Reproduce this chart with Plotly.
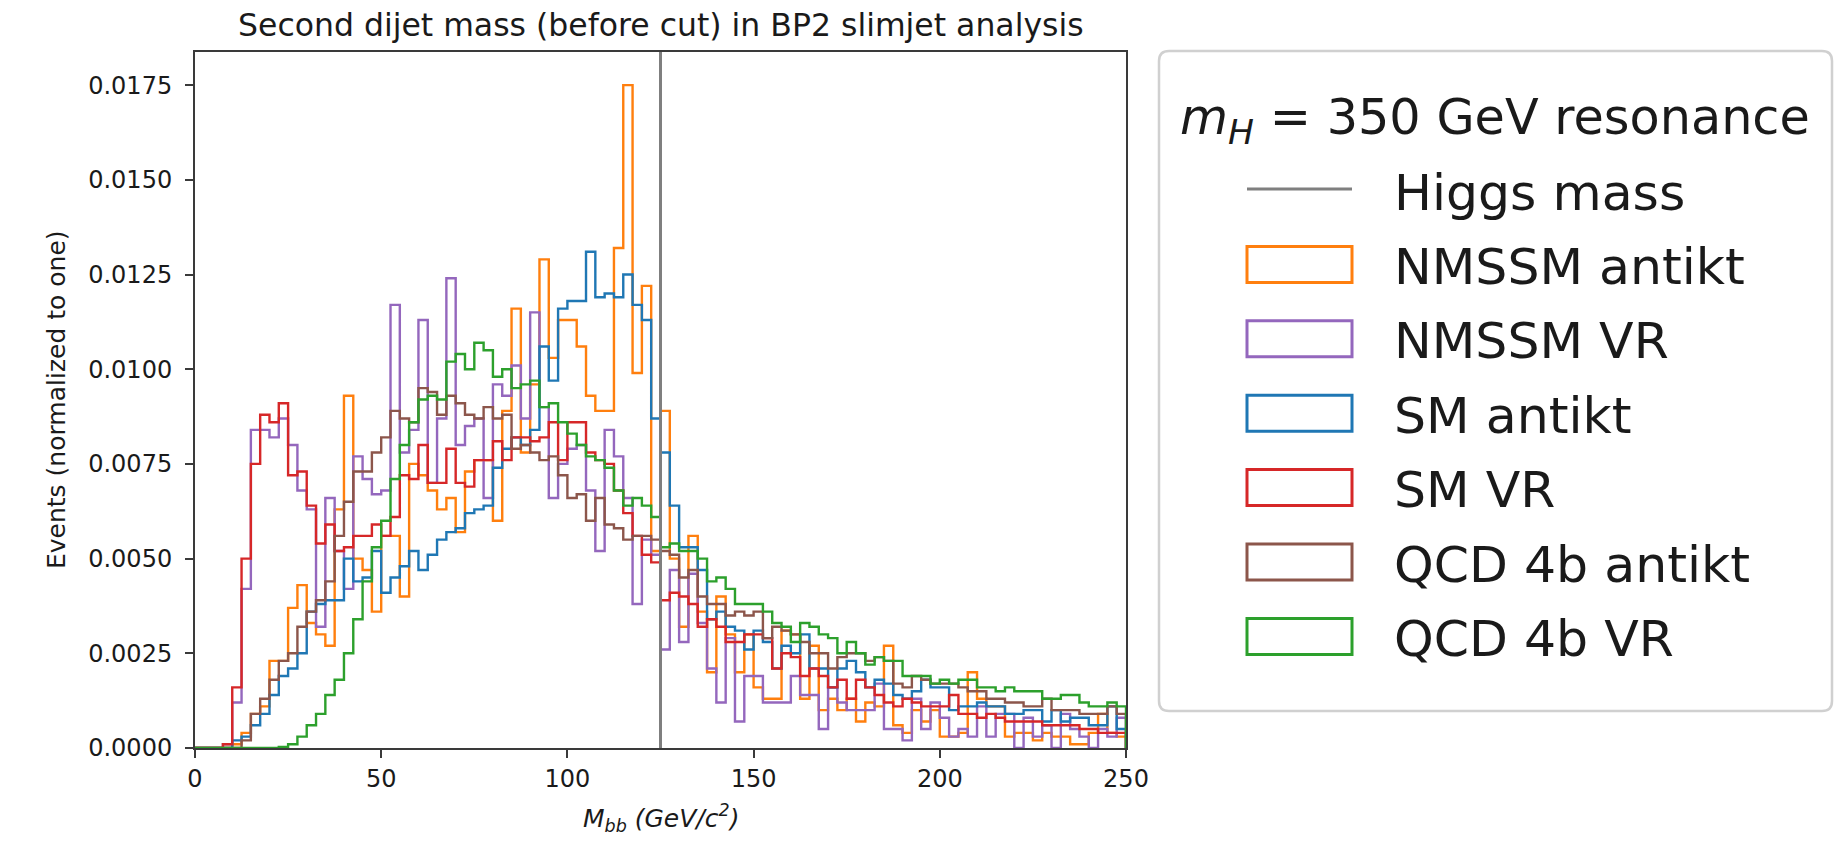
import numpy as np
import plotly.graph_objects as go

# ---------------- data ----------------
BIN_WIDTH = 2.5
X_MIN, X_MAX = 0, 250
bin_edges = np.arange(X_MIN, X_MAX + BIN_WIDTH / 2, BIN_WIDTH)  # 101 edges, 100 bins
HIGGS_MASS = 125

nmssm_antikt = [
    0, 0, 0, 0, 0.0001, 0.0004, 0.0009, 0.0011, 0.0023, 0.0023,
    0.0037, 0.0043, 0.0033, 0.0030, 0.0027, 0.0063, 0.0093, 0.0050, 0.0047, 0.0036,
    0.0056, 0.0056, 0.0040, 0.0075, 0.0072, 0.0068, 0.0063, 0.0066, 0.0057, 0.0073,
    0.0076, 0.0076, 0.0060, 0.0089, 0.0116, 0.0078, 0.0096, 0.0129, 0.0103, 0.0113,
    0.0113, 0.0106, 0.0093, 0.0089, 0.0089, 0.0132, 0.0175, 0.0099, 0.0122, 0.0052,
    0.0089, 0.0050, 0.0032, 0.0056, 0.0036, 0.0020, 0.0040, 0.0030, 0.0020, 0.0030,
    0.0016, 0.0013, 0.0013, 0.0031, 0.0030, 0.0013, 0.0027, 0.0010, 0.0013, 0.0010,
    0.0013, 0.0007, 0.0012, 0.0011, 0.0027, 0.0006, 0.0004, 0.0010, 0.0007, 0.0010,
    0.0003, 0.0003, 0.0004, 0.0020, 0.0013, 0.0011, 0.0011, 0.0003, 0.0004, 0.0004,
    0.0002, 0.0004, 0.0003, 0.0003, 0.0001, 0.0001, 0.0004, 0.0009, 0.0004, 0.0003,
]
nmssm_vr = [
    0, 0, 0, 0.0001, 0.0012, 0.0042, 0.0084, 0.0084, 0.0082, 0.0087,
    0.0080, 0.0068, 0.0063, 0.0032, 0.0066, 0.0052, 0.0042, 0.0077, 0.0071, 0.0067,
    0.0068, 0.0117, 0.0078, 0.0084, 0.0113, 0.0070, 0.0087, 0.0124, 0.0080, 0.0085,
    0.0087, 0.0066, 0.0096, 0.0093, 0.0101, 0.0087, 0.0115, 0.0090, 0.0066, 0.0075,
    0.0079, 0.0080, 0.0068, 0.0052, 0.0084, 0.0077, 0.0066, 0.0038, 0.0055, 0.0051,
    0.0026, 0.0047, 0.0028, 0.0046, 0.0033, 0.0021, 0.0012, 0.0029, 0.0007, 0.0019,
    0.0019, 0.0012, 0.0012, 0.0012, 0.0019, 0.0014, 0.0014, 0.0005, 0.0016, 0.0012,
    0.0010, 0.0010, 0.0010, 0.0017, 0.0005, 0.0005, 0.0002, 0.0013, 0.0005, 0.0012,
    0.0008, 0.0003, 0.0005, 0.0003, 0.0011, 0.0003, 0.0009, 0.0009, 0.0000, 0.0008,
    0.0003, 0.0006, 0.0000, 0.0009, 0.0005, 0.0003, 0.0000, 0.0005, 0.0003, 0.0008,
]
sm_antikt = [
    0, 0, 0, 0, 0.0002, 0.0003, 0.0006, 0.0009, 0.0014, 0.0019,
    0.0021, 0.0025, 0.0036, 0.0038, 0.0039, 0.0039, 0.0050, 0.0044, 0.0045, 0.0052,
    0.0041, 0.0045, 0.0048, 0.0052, 0.0047, 0.0051, 0.0055, 0.0057, 0.0058, 0.0062,
    0.0063, 0.0064, 0.0074, 0.0079, 0.0082, 0.0080, 0.0084, 0.0106, 0.0097, 0.0116,
    0.0118, 0.0118, 0.0131, 0.0119, 0.0120, 0.0119, 0.0125, 0.0117, 0.0113, 0.0087,
    0.0078, 0.0064, 0.0053, 0.0053, 0.0047, 0.0034, 0.0036, 0.0032, 0.0031, 0.0026,
    0.0031, 0.0028, 0.0021, 0.0027, 0.0025, 0.0030, 0.0021, 0.0021, 0.0016, 0.0021,
    0.0023, 0.0020, 0.0016, 0.0018, 0.0017, 0.0014, 0.0013, 0.0015, 0.0018, 0.0016,
    0.0016, 0.0010, 0.0011, 0.0011, 0.0012, 0.0011, 0.0011, 0.0009, 0.0009, 0.0010,
    0.0010, 0.0007, 0.0010, 0.0007, 0.0008, 0.0008, 0.0006, 0.0006, 0.0011, 0.0005,
]
sm_vr = [
    0, 0, 0, 0.0001, 0.0016, 0.0050, 0.0075, 0.0088, 0.0086, 0.0091,
    0.0072, 0.0073, 0.0064, 0.0054, 0.0059, 0.0052, 0.0053, 0.0056, 0.0056, 0.0059,
    0.0056, 0.0061, 0.0072, 0.0071, 0.0080, 0.0070, 0.0070, 0.0079, 0.0070, 0.0069,
    0.0076, 0.0076, 0.0081, 0.0076, 0.0082, 0.0082, 0.0081, 0.0082, 0.0086, 0.0076,
    0.0086, 0.0086, 0.0078, 0.0076, 0.0075, 0.0068, 0.0062, 0.0056, 0.0051, 0.0049,
    0.0039, 0.0041, 0.0040, 0.0038, 0.0032, 0.0034, 0.0032, 0.0028, 0.0028, 0.0030,
    0.0030, 0.0029, 0.0021, 0.0025, 0.0024, 0.0019, 0.0021, 0.0019, 0.0016, 0.0018,
    0.0013, 0.0018, 0.0016, 0.0014, 0.0012, 0.0011, 0.0013, 0.0012, 0.0011, 0.0011,
    0.0011, 0.0014, 0.0009, 0.0009, 0.0008, 0.0009, 0.0008, 0.0007, 0.0007, 0.0007,
    0.0007, 0.0006, 0.0006, 0.0006, 0.0006, 0.0005, 0.0005, 0.0004, 0.0004, 0.0004,
]
qcd_antikt = [
    0, 0, 0, 0, 0, 0.0002, 0.0009, 0.0013, 0.0018, 0.0023,
    0.0025, 0.0032, 0.0036, 0.0039, 0.0044, 0.0056, 0.0065, 0.0073, 0.0073, 0.0078,
    0.0082, 0.0089, 0.0087, 0.0086, 0.0095, 0.0094, 0.0088, 0.0093, 0.0091, 0.0088,
    0.0087, 0.0090, 0.0087, 0.0088, 0.0079, 0.0080, 0.0078, 0.0076, 0.0077, 0.0072,
    0.0066, 0.0067, 0.0060, 0.0066, 0.0059, 0.0058, 0.0055, 0.0056, 0.0056, 0.0055,
    0.0052, 0.0051, 0.0045, 0.0047, 0.0040, 0.0038, 0.0038, 0.0035, 0.0036, 0.0035,
    0.0036, 0.0029, 0.0032, 0.0031, 0.0030, 0.0028, 0.0025, 0.0025, 0.0021, 0.0024,
    0.0025, 0.0025, 0.0023, 0.0024, 0.0023, 0.0017, 0.0016, 0.0019, 0.0018, 0.0017,
    0.0017, 0.0017, 0.0016, 0.0015, 0.0015, 0.0013, 0.0013, 0.0012, 0.0012, 0.0011,
    0.0011, 0.0013, 0.0010, 0.0010, 0.0010, 0.0009, 0.0009, 0.0009, 0.0011, 0.0009,
]
qcd_vr = [
    0, 0, 0, 0, 0, 0, 0, 0, 0, 0.00003,
    0.0001, 0.0003, 0.0006, 0.0009, 0.0014, 0.0018, 0.0025, 0.0034, 0.0044, 0.0053,
    0.0060, 0.0071, 0.0080, 0.0086, 0.0092, 0.0093, 0.0092, 0.0102, 0.0104, 0.0100,
    0.0107, 0.0105, 0.0098, 0.0100, 0.0095, 0.0096, 0.0097, 0.0090, 0.0091, 0.0086,
    0.0083, 0.0080, 0.0077, 0.0076, 0.0074, 0.0068, 0.0064, 0.0066, 0.0064, 0.0061,
    0.0053, 0.0054, 0.0052, 0.0052, 0.0050, 0.0044, 0.0045, 0.0042, 0.0038, 0.0038,
    0.0038, 0.0036, 0.0033, 0.0032, 0.0028, 0.0033, 0.0032, 0.0030, 0.0029, 0.0025,
    0.0028, 0.0025, 0.0022, 0.0024, 0.0023, 0.0023, 0.0019, 0.0019, 0.0019, 0.0017,
    0.0018, 0.0017, 0.0018, 0.0018, 0.0016, 0.0016, 0.0015, 0.0016, 0.0015, 0.0015,
    0.0015, 0.0013, 0.0013, 0.0014, 0.0014, 0.0012, 0.0011, 0.0011, 0.0012, 0.0011,
]

series_names = ["NMSSM antikt", "NMSSM VR", "SM antikt", "SM VR", "QCD 4b antikt", "QCD 4b VR"]
series_values = [nmssm_antikt, nmssm_vr, sm_antikt, sm_vr, qcd_antikt, qcd_vr]
series_colors = ["#ff7f0e", "#9467bd", "#1f77b4", "#d62728", "#8c564b", "#2ca02c"]

y_tick_values = [0.0, 0.0025, 0.0050, 0.0075, 0.0100, 0.0125, 0.0150, 0.0175]
x_tick_values = [0, 50, 100, 150, 200, 250]

TITLE = "Second dijet mass (before cut) in BP2 slimjet analysis"
Y_LABEL = "Events (normalized to one)"
X_LABEL = "<i>M<sub>bb</sub> (GeV/c<sup>2</sup>)</i>"
LEGEND_TITLE = "<i>m<sub>H</sub></i> = 350 GeV resonance"
HIGGS_LABEL = "Higgs mass"

# ---------------- layout geometry (pixels) ----------------
FIG_W, FIG_H = 1835, 848
L, R, T, B = 195, 709, 52, 100
PW, PH = FIG_W - L - R, FIG_H - T - B
FONT = "DejaVu Sans"
TEXT_COLOR = "#1a1a1a"


def px(xp):
    return (xp - L) / PW


def py(yp):
    return (T + PH - yp) / PH


fig = go.Figure()

for name, vals, color in zip(series_names, series_values, series_colors):
    vals = list(vals)
    xs = [bin_edges[0]] + list(bin_edges) + [bin_edges[-1]]
    ys = [0] + vals + [vals[-1]] + [0]
    fig.add_trace(go.Scatter(
        x=xs, y=ys, mode="lines", line=dict(color=color, width=2.4, shape="hv"),
        name=name, showlegend=False, hoverinfo="skip",
    ))

y_max = max(max(v) for v in series_values) * 1.05

# Higgs mass vertical line
fig.add_shape(type="line", xref="x", yref="paper", x0=HIGGS_MASS, x1=HIGGS_MASS,
              y0=0, y1=1, line=dict(color="#7f7f7f", width=3), layer="above")

axis_common = dict(
    showline=True, linecolor="#3a3a3a", linewidth=2, mirror=True,
    ticks="outside", ticklen=8, tickwidth=2, tickcolor="#3a3a3a",
    showgrid=False, zeroline=False,
    tickfont=dict(family=FONT, size=24, color=TEXT_COLOR),
)

fig.update_xaxes(range=[X_MIN, X_MAX], tickvals=x_tick_values,
                 ticktext=[str(v) for v in x_tick_values], **axis_common)
fig.update_yaxes(range=[0, y_max], tickvals=y_tick_values,
                 ticktext=[f"{v:.4f}" for v in y_tick_values],
                 ticklabelstandoff=8, **axis_common)

annotations = []
# title
annotations.append(dict(text=TITLE, xref="paper", yref="paper", x=0.5, y=py(25),
                        xanchor="center", yanchor="middle", showarrow=False,
                        font=dict(family=FONT, size=31.5, color=TEXT_COLOR)))
# y label
annotations.append(dict(text=Y_LABEL, xref="paper", yref="paper", x=px(56), y=0.5,
                        xanchor="center", yanchor="middle", textangle=-90, showarrow=False,
                        font=dict(family=FONT, size=25, color=TEXT_COLOR)))
# x label
annotations.append(dict(text=X_LABEL, xref="paper", yref="paper", x=0.5, y=py(818),
                        xanchor="center", yanchor="middle", showarrow=False,
                        font=dict(family=FONT, size=25, color=TEXT_COLOR)))

# ---------------- custom legend ----------------
LEG_X0, LEG_X1, LEG_Y0, LEG_Y1 = 1159, 1832, 51, 711
rad = 10
path = (
    f"M {px(LEG_X0 + rad)},{py(LEG_Y0)} L {px(LEG_X1 - rad)},{py(LEG_Y0)} "
    f"Q {px(LEG_X1)},{py(LEG_Y0)} {px(LEG_X1)},{py(LEG_Y0 + rad)} "
    f"L {px(LEG_X1)},{py(LEG_Y1 - rad)} Q {px(LEG_X1)},{py(LEG_Y1)} {px(LEG_X1 - rad)},{py(LEG_Y1)} "
    f"L {px(LEG_X0 + rad)},{py(LEG_Y1)} Q {px(LEG_X0)},{py(LEG_Y1)} {px(LEG_X0)},{py(LEG_Y1 - rad)} "
    f"L {px(LEG_X0)},{py(LEG_Y0 + rad)} Q {px(LEG_X0)},{py(LEG_Y0)} {px(LEG_X0 + rad)},{py(LEG_Y0)} Z"
)
fig.add_shape(type="path", path=path, xref="paper", yref="paper",
              line=dict(color="#d0d0d0", width=2.5), fillcolor="white", layer="above")

LEG_FONT = 50.5
LEG_TITLE_FONT = 49.3
annotations.append(dict(text=LEGEND_TITLE, xref="paper", yref="paper", x=px(1178), y=py(120),
                        xanchor="left", yanchor="middle", showarrow=False,
                        font=dict(family=FONT, size=LEG_TITLE_FONT, color=TEXT_COLOR)))

HANDLE_X0, HANDLE_X1 = 1247, 1352
TEXT_X = 1392
ROW0, ROW_STEP = 190, 74.4
HANDLE_HALF_H = 18

labels = [HIGGS_LABEL] + series_names
for i, lab in enumerate(labels):
    yc = ROW0 + ROW_STEP * i
    annotations.append(dict(text=lab, xref="paper", yref="paper", x=px(TEXT_X), y=py(yc + 2),
                            xanchor="left", yanchor="middle", showarrow=False,
                            font=dict(family=FONT, size=LEG_FONT, color=TEXT_COLOR)))
    if i == 0:
        fig.add_shape(type="line", xref="paper", yref="paper",
                      x0=px(HANDLE_X0), x1=px(HANDLE_X1), y0=py(yc - 1), y1=py(yc - 1),
                      line=dict(color="#7f7f7f", width=3), layer="above")
    else:
        fig.add_shape(type="rect", xref="paper", yref="paper",
                      x0=px(HANDLE_X0), x1=px(HANDLE_X1),
                      y0=py(yc - HANDLE_HALF_H), y1=py(yc + HANDLE_HALF_H),
                      line=dict(color=series_colors[i - 1], width=3), fillcolor="white",
                      layer="above")

fig.update_layout(
    width=FIG_W, height=FIG_H,
    margin=dict(l=L, r=R, t=T, b=B, autoexpand=False),
    paper_bgcolor="white", plot_bgcolor="white",
    showlegend=False,
    annotations=annotations,
    font=dict(family=FONT, color=TEXT_COLOR),
)

fig.write_html("out.html")
